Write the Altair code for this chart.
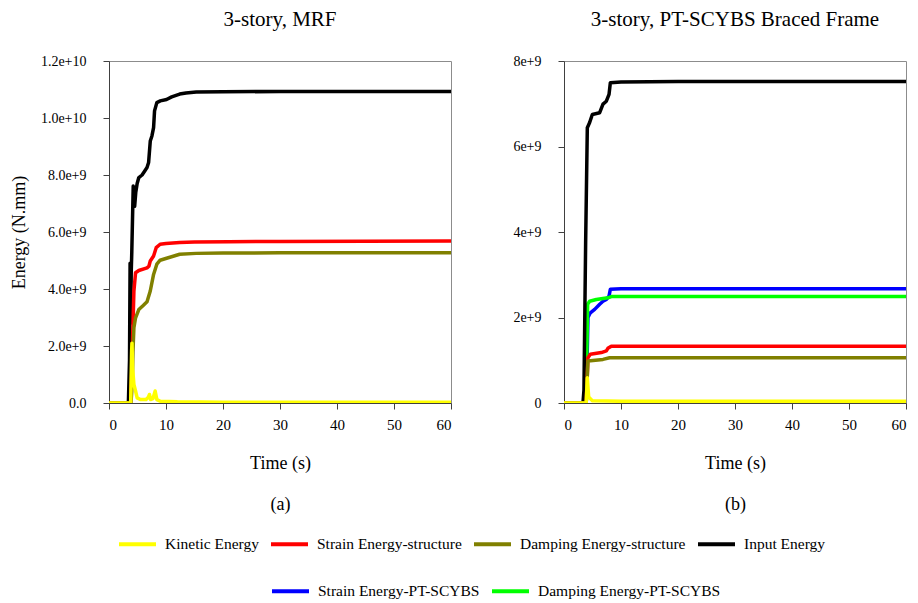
import altair as alt
import pandas as pd

SERIES = ["Kinetic Energy", "Strain Energy-structure", "Damping Energy-structure",
          "Input Energy", "Strain Energy-PT-SCYBS", "Damping Energy-PT-SCYBS"]
COLORS = ["#ffff00", "#ff0000", "#808000", "#000000", "#0000ff", "#00ff00"]

# ---- (a) 3-story MRF, energy in 1e9 N.mm ----
mrf_input_t = [0, 3.4, 3.6, 3.7, 3.8, 3.9, 4.0, 4.25, 4.5, 4.7, 4.94, 5.23, 5.8, 6.3, 6.67,
               6.95, 7.24, 7.53, 7.82, 7.99, 8.39, 9.0, 10.1, 11.0, 12.4, 13.5, 15.3, 20, 30, 60]
mrf_input_e = [0, 0, 1.5, 4.9, 2.8, 4.6, 5.3, 7.61, 6.9, 7.4, 7.7, 7.91, 8.0, 8.15, 8.26,
               8.44, 9.19, 9.37, 9.66, 10.25, 10.54, 10.6, 10.65, 10.74, 10.84, 10.88, 10.91, 10.92, 10.93, 10.93]

mrf_strain_t = [0, 3.8, 3.95, 4.08, 4.37, 4.66, 5.23, 6.67, 7.0, 7.24, 7.82, 8.28, 8.97, 10.0, 12.4, 15.0, 21.0, 30, 60]
mrf_strain_e = [0, 0, 0.8, 1.82, 3.93, 4.57, 4.65, 4.74, 4.8, 4.98, 5.16, 5.45, 5.57, 5.6, 5.63, 5.65, 5.66, 5.67, 5.68]

mrf_damp_t = [0, 3.85, 4.08, 4.2, 4.37, 4.66, 5.23, 6.0, 6.67, 7.24, 7.82, 8.39, 8.97, 10.1, 12.4, 15.3, 20, 30, 60]
mrf_damp_e = [0, 0, 0.65, 1.8, 2.64, 2.99, 3.28, 3.42, 3.55, 3.93, 4.51, 4.87, 5.01, 5.08, 5.22, 5.25, 5.26, 5.27, 5.27]

mrf_kin_t = [0, 3.8, 3.97, 4.03, 4.15, 4.37, 4.66, 4.94, 5.5, 6.5, 6.9, 7.1, 7.3, 7.7, 8.1, 8.4, 9.0, 12, 20, 40, 60]
mrf_kin_e = [0, 0, 1.82, 2.1, 1.2, 0.65, 0.42, 0.18, 0.12, 0.12, 0.2, 0.3, 0.12, 0.15, 0.42, 0.12, 0.06, 0.04, 0.03, 0.03, 0.03]

# ---- (b) 3-story PT-SCYBS braced frame, energy in 1e9 N.mm ----
pt_input_t = [0, 3.33, 3.5, 3.8, 4.09, 4.5, 4.97, 6.26, 6.84, 7.43, 7.9, 8.13, 10, 20, 60]
pt_input_e = [0, 0, 0.3, 3.79, 6.44, 6.56, 6.75, 6.79, 6.99, 7.06, 7.22, 7.49, 7.51, 7.52, 7.52]

pt_blue_t = [0, 3.9, 4.2, 4.62, 5.38, 6.26, 6.84, 7.43, 7.9, 8.13, 10, 60]
pt_blue_e = [0, 0, 2.0, 2.11, 2.19, 2.31, 2.38, 2.42, 2.5, 2.66, 2.67, 2.67]

pt_green_t = [0, 3.85, 4.15, 4.5, 5.67, 7.7, 8.3, 10, 60]
pt_green_e = [0, 0, 2.31, 2.38, 2.42, 2.46, 2.49, 2.49, 2.49]

pt_strain_t = [0, 3.9, 4.2, 4.62, 6.55, 7.43, 7.7, 8.3, 10, 60]
pt_strain_e = [0, 0, 1.06, 1.14, 1.18, 1.22, 1.28, 1.33, 1.33, 1.33]

pt_damp_t = [0, 3.9, 4.2, 6.84, 8.0, 10, 60]
pt_damp_e = [0, 0, 0.98, 1.02, 1.06, 1.06, 1.06]

pt_kin_t = [0, 3.9, 4.09, 4.33, 5.0, 10, 60]
pt_kin_e = [0, 0, 0.59, 0.14, 0.05, 0.04, 0.04]


def frame(ts, es, name):
    return pd.DataFrame({"t": ts, "E": [e * 1e9 for e in es], "series": name})


df_a = pd.concat([
    frame(mrf_input_t, mrf_input_e, SERIES[3]),
    frame(mrf_strain_t, mrf_strain_e, SERIES[1]),
    frame(mrf_damp_t, mrf_damp_e, SERIES[2]),
    frame(mrf_kin_t, mrf_kin_e, SERIES[0]),
])
df_b_struct = pd.concat([
    frame(pt_input_t, pt_input_e, SERIES[3]),
    frame(pt_strain_t, pt_strain_e, SERIES[1]),
    frame(pt_damp_t, pt_damp_e, SERIES[2]),
    frame(pt_kin_t, pt_kin_e, SERIES[0]),
])
df_b_pt = pd.concat([
    frame(pt_blue_t, pt_blue_e, SERIES[4]),
    frame(pt_green_t, pt_green_e, SERIES[5]),
])

FONT = "Liberation Serif"
W = H = 342
NB = "\u00a0"

leg_common = dict(
    orient="none", direction="horizontal", title=None,
    symbolType="stroke", symbolStrokeWidth=4, symbolSize=1369,
    labelFont=FONT, labelFontSize=15.5, labelColor="black",
    labelOffset=7, columnPadding=10, labelLimit=400, clipHeight=16,
)

color_struct = alt.Color(
    "series:N",
    scale=alt.Scale(domain=SERIES[:4], range=COLORS[:4]),
    legend=alt.Legend(legendX=8, legendY=475, **leg_common),
)
stroke_pt = alt.Stroke(
    "series:N",
    scale=alt.Scale(domain=SERIES[4:], range=COLORS[4:]),
    legend=alt.Legend(legendX=161, legendY=522, **leg_common),
)

xvals = [0, 10, 20, 30, 40, 50, 60]


def xenc(label):
    return alt.X("t:Q", scale=alt.Scale(domain=[0, 60], nice=False, zero=False),
                 axis=alt.Axis(values=xvals, title=["Time (s)", label],
                               titleLineHeight=41, titleBaseline="top",
                               titleY=51, titleX=W / 2,
                               labelFont=FONT, labelFontSize=15, format="d"))


yA = alt.Y("E:Q", scale=alt.Scale(domain=[0, 1.2e10], nice=False),
           axis=alt.Axis(values=[0, 2e9, 4e9, 6e9, 8e9, 1e10, 1.2e10],
                         labelExpr="datum.value == 0 ? '0.0' : format(datum.value, '.1e')",
                         labelFont=FONT, labelFontSize=14,
                         title="Energy (N.mm)", titleX=-90, titleY=H / 2,
                         titleBaseline="middle"))
yB = alt.Y("E:Q", scale=alt.Scale(domain=[0, 8e9], nice=False),
           axis=alt.Axis(values=[0, 2e9, 4e9, 6e9, 8e9],
                         labelExpr="datum.value == 0 ? '0' : format(datum.value, '.0e')",
                         labelFont=FONT, labelFontSize=14,
                         title=None))

line_kw = dict(strokeWidth=3.5, strokeJoin="round", clip=True)

panel_a = alt.Chart(df_a).mark_line(**line_kw).encode(
    x=xenc("(a)" + NB * 4), y=yA, color=color_struct,
    order=alt.Order("t:Q"),
).properties(width=W, height=H, title="3-story, MRF")

b_pt = alt.Chart(df_b_pt).mark_line(**line_kw).encode(
    x=xenc("(b)"), y=yB, stroke=stroke_pt, order=alt.Order("t:Q"))
b_struct = alt.Chart(df_b_struct).mark_line(**line_kw).encode(
    x=xenc("(b)"), y=yB, color=color_struct, order=alt.Order("t:Q"))

panel_b = alt.layer(b_pt, b_struct).properties(
    width=W, height=H, title="3-story, PT-SCYBS Braced Frame")

chart = alt.hconcat(panel_a, panel_b, spacing=60).properties(
    padding={"left": 9, "top": 8, "right": 0, "bottom": 0},
    background="white",
).configure_view(
    stroke="#8c8c8c", strokeWidth=1
).configure_axis(
    grid=False, labelColor="black", labelFont=FONT, labelFontSize=14,
    titleFont=FONT, titleFontSize=18, titleFontWeight="normal", titleColor="black",
    domainColor="#404040", tickColor="#404040", tickSize=6,
).configure_axisY(
    labelPadding=17,
).configure_axisX(
    labelPadding=8,
).configure_title(
    font=FONT, fontSize=21, fontWeight="normal", color="black",
    baseline="alphabetic", offset=24,
)

chart.save("out.html", embed_options={"renderer": "svg", "actions": False})
